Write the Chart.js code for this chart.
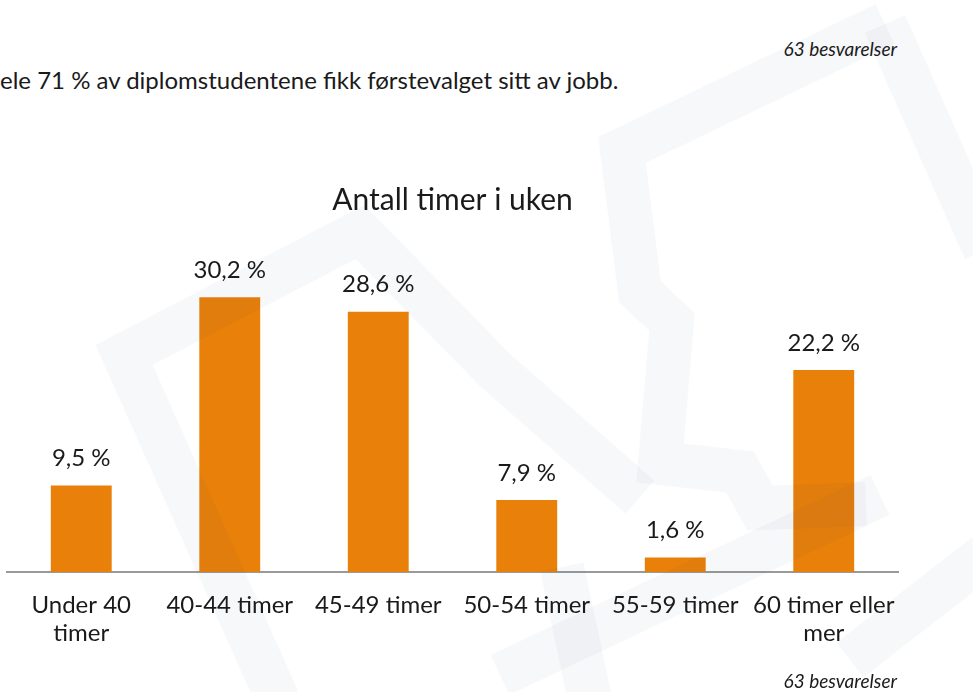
<!DOCTYPE html>
<html lang="no">
<head>
<meta charset="utf-8">
<title>Antall timer i uken</title>
<script src="https://cdn.jsdelivr.net/npm/chart.js@4.4.1/dist/chart.umd.min.js"></script>
<style>
    html, body { margin: 0; padding: 0; background: #fff; }
    body { width: 973px; height: 692px; position: relative; overflow: hidden; font-family: 'Lato', sans-serif; color: #1a1a1a; }
    #chartBox { position: absolute; left: 0; top: 0; width: 973px; height: 692px; }
    .intro { position: absolute; left: 0; top: 65px; font-size: 24px; line-height: 30px; white-space: nowrap; }
    .count { position: absolute; right: 76px; font-size: 19px; font-style: italic; line-height: 22px; }
    #watermark { position: absolute; left: 0; top: 0; pointer-events: none; }
</style>
</head>
<body>
<div class="intro">ele 71 % av diplomstudentene fikk førstevalget sitt av jobb.</div>
<div class="count" style="top: 38px;">63 besvarelser</div>
<div id="chartBox"><canvas id="hoursChart" width="973" height="692"></canvas></div>
<svg id="watermark" width="973" height="692" viewBox="0 0 973 692">
    <g fill="none" stroke="rgba(30,50,120,0.035)" stroke-width="44" stroke-linejoin="miter">
        <polyline points="278,700 124,355 360,232 495,370 640,497"/>
        <polyline points="880,495 500,675"/>
        <polyline points="885,24 622,150 640,292 672,322 660,463 740,472 760,508 866,504"/>
        <polyline points="885,24 985,250"/>
        <polyline points="562,567 590,700"/>
        <polyline points="985,555 850,660"/>
    </g>
</svg>
<div class="count" style="top: 670px;">63 besvarelser</div>

<script>
// Data
const categories = [['Under 40', 'timer'], '40-44 timer', '45-49 timer', '50-54 timer', '55-59 timer', ['60 timer eller', 'mer']];
const shares = [9.5, 30.2, 28.6, 7.9, 1.6, 22.2];
const chartTitle = 'Antall timer i uken';

Chart.defaults.font.family = 'Lato';
Chart.defaults.color = '#1a1a1a';

function formatShare(value) {
    return value.toFixed(1).replace('.', ',') + ' %';
}

// Value labels above each bar
const barLabels = {
    id: 'barLabels',
    afterDatasetsDraw(chart) {
        const ctx = chart.ctx;
        const meta = chart.getDatasetMeta(0);
        ctx.save();
        ctx.font = '24px Lato';
        ctx.fillStyle = '#1a1a1a';
        ctx.textAlign = 'center';
        ctx.textBaseline = 'middle';
        meta.data.forEach(function(bar, i) {
            ctx.fillText(formatShare(shares[i]), bar.x, bar.y - 27);
        });
        ctx.restore();
    }
};

function initHoursChart() {
    const ctx = document.getElementById('hoursChart').getContext('2d');
    new Chart(ctx, {
        type: 'bar',
        data: {
            labels: categories,
            datasets: [{
                data: shares,
                backgroundColor: '#E9800A',
                borderWidth: 0,
                barPercentage: 0.41,
                categoryPercentage: 1
            }]
        },
        options: {
            responsive: false,
            animation: false,
            layout: {
                padding: { left: 7, right: 75, top: 0, bottom: 0 }
            },
            plugins: {
                legend: { display: false },
                tooltip: { enabled: false },
                title: {
                    display: true,
                    text: chartTitle,
                    color: '#1a1a1a',
                    font: { size: 30, weight: 'normal', lineHeight: 1.2 },
                    padding: { top: 182, bottom: 35.5 }
                }
            },
            scales: {
                x: {
                    grid: { display: false, drawTicks: false },
                    border: { display: true, color: '#9a9a9a', width: 2 },
                    ticks: {
                        color: '#1a1a1a',
                        padding: 19,
                        maxRotation: 0,
                        autoSkip: false,
                        font: { size: 24, lineHeight: 1.17 }
                    },
                    afterFit: function(scale) {
                        scale.height = 120;
                    }
                },
                y: {
                    display: false,
                    min: 0,
                    max: 35
                }
            }
        },
        plugins: [barLabels]
    });
}

document.fonts.load('24px Lato').then(initHoursChart, initHoursChart);
</script>
</body>
</html>
